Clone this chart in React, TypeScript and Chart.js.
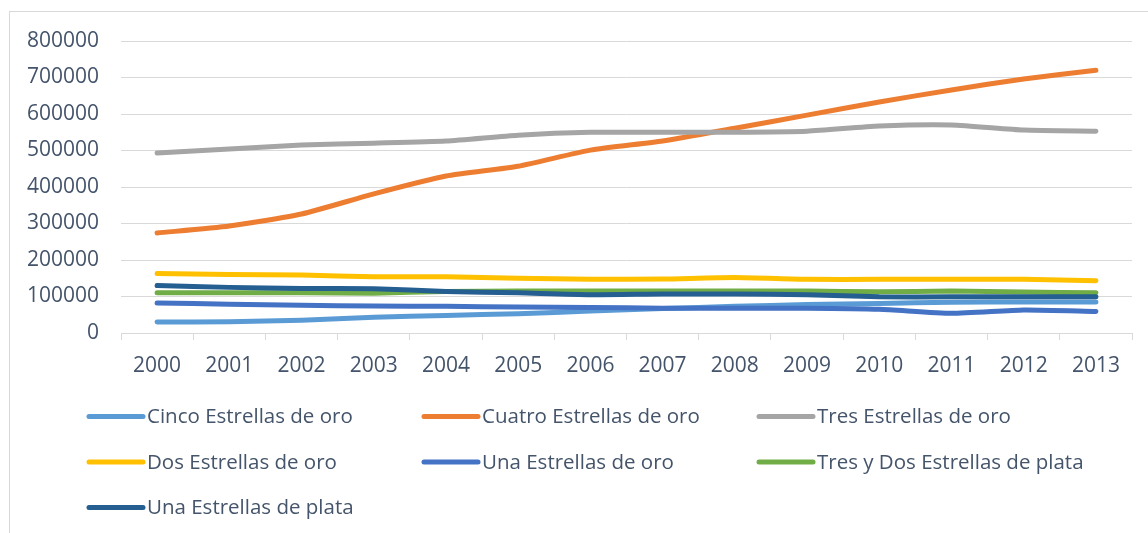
import React, { useEffect, useRef } from "react";
import { Chart, registerables } from "chart.js";

Chart.register(...registerables);

const years = ["2000", "2001", "2002", "2003", "2004", "2005", "2006", "2007", "2008", "2009", "2010", "2011", "2012", "2013"];

const cincoOro = [30000, 31000, 35000, 43000, 48000, 53000, 60000, 67000, 73000, 78000, 81000, 84000, 85000, 85000];
const cuatroOro = [274000, 293000, 326000, 381000, 430000, 457000, 501000, 526000, 561000, 597000, 633000, 666000, 696000, 720000];
const tresOro = [493000, 504000, 515000, 520000, 526000, 542000, 550000, 550000, 550000, 553000, 567000, 570000, 556000, 553000];
const dosOro = [163000, 160000, 159000, 154000, 154000, 150000, 147000, 148000, 152000, 147000, 147000, 147000, 147000, 143000];
const unaOro = [82000, 79000, 76000, 74000, 73000, 71000, 70000, 68000, 68000, 68000, 65000, 54000, 63000, 59000];
const tresDosPlata = [110000, 110000, 110000, 109000, 114000, 115000, 115000, 115000, 115000, 115000, 113000, 115000, 112000, 110000];
const unaPlata = [130000, 125000, 122000, 121000, 114000, 110000, 105000, 107000, 107000, 105000, 99000, 99000, 99000, 99000];

const seriesNames = [
  "Cinco Estrellas de oro",
  "Cuatro Estrellas de oro",
  "Tres Estrellas de oro",
  "Dos Estrellas de oro",
  "Una Estrellas de oro",
  "Tres y Dos Estrellas de plata",
  "Una Estrellas de plata",
];
const seriesValues = [cincoOro, cuatroOro, tresOro, dosOro, unaOro, tresDosPlata, unaPlata];
const seriesColors = ["#5B9BD5", "#ED7D31", "#A5A5A5", "#FFC000", "#4472C4", "#70AD47", "#255E91"];

const yTicks = [0, 100000, 200000, 300000, 400000, 500000, 600000, 700000, 800000];

const TEXT = "#44546A";
const GRID = "#D9D9D9";
const FONT = "'Open Sans', sans-serif";

const legendPlugin = {
  id: "gridLegend",
  afterDraw(chart: any) {
    const ctx = chart.ctx;
    const ds = chart.data.datasets;
    ctx.save();
    ctx.font = `20.5px ${FONT}`;
    ctx.textBaseline = "middle";
    ctx.textAlign = "left";
    for (let i = 0; i < ds.length; i++) {
      const col = i % 3;
      const row = Math.floor(i / 3);
      const x0 = 89 + col * 335;
      const y = 416.5 + row * 45.5;
      ctx.strokeStyle = ds[i].borderColor;
      ctx.lineWidth = 5;
      ctx.lineCap = "round";
      ctx.beginPath();
      ctx.moveTo(x0, y);
      ctx.lineTo(x0 + 54, y);
      ctx.stroke();
      ctx.fillStyle = TEXT;
      ctx.fillText(ds[i].label, x0 + 58, y + 1);
    }
    ctx.restore();
  },
};

export default function App() {
  const ref = useRef<HTMLCanvasElement>(null);

  useEffect(() => {
    if (!ref.current) return;
    const n = seriesNames.length;
    const chart = new Chart(ref.current, {
      type: "line",
      data: {
        labels: years,
        datasets: seriesNames.map((name, i) => ({
          label: name,
          data: seriesValues[i],
          borderColor: seriesColors[i],
          backgroundColor: seriesColors[i],
          borderWidth: 5,
          borderCapStyle: "round" as const,
          borderJoinStyle: "round" as const,
          pointRadius: 0,
          tension: 0.2,
          order: n - i,
        })),
      },
      options: {
        responsive: false,
        animation: false,
        layout: { padding: { top: 41, right: 16, bottom: 0, left: 0 } },
        plugins: {
          legend: { display: false },
          tooltip: { enabled: false },
        },
        scales: {
          x: {
            offset: true,
            grid: {
              offset: true,
              drawOnChartArea: false,
              drawTicks: true,
              tickLength: 7,
              color: GRID,
              lineWidth: 1,
            },
            border: { display: true, color: GRID, width: 1 },
            ticks: {
              color: TEXT,
              font: { family: FONT, size: 21 },
              padding: 13,
              maxRotation: 0,
              autoSkip: false,
            },
            afterFit(scale: any) {
              scale.height = 200;
              scale.paddingLeft = 0;
              scale.paddingRight = 0;
            },
          },
          y: {
            min: yTicks[0],
            max: yTicks[yTicks.length - 1],
            afterBuildTicks(scale: any) {
              scale.ticks = yTicks.map((v) => ({ value: v }));
            },
            grid: { color: GRID, lineWidth: 1, drawTicks: false },
            border: { display: false },
            ticks: {
              color: TEXT,
              font: { family: FONT, size: 21 },
              padding: 22,
              callback: (v: any) => String(v),
            },
            afterFit(scale: any) {
              scale.width = 121;
              scale.paddingTop = 0;
              scale.paddingBottom = 0;
            },
          },
        },
      },
      plugins: [legendPlugin],
    });
    return () => chart.destroy();
  }, []);

  return (
    <div style={{ position: "absolute", left: 0, top: 0, width: 1148, height: 533, overflow: "hidden", background: "#fff" }}>
      <div
        style={{
          position: "absolute",
          left: 9,
          top: 11,
          width: 1200,
          height: 600,
          border: `1px solid ${GRID}`,
          boxSizing: "border-box",
        }}
      />
      <canvas ref={ref} width={1148} height={533} style={{ position: "absolute", left: 0, top: 0 }} />
    </div>
  );
}
